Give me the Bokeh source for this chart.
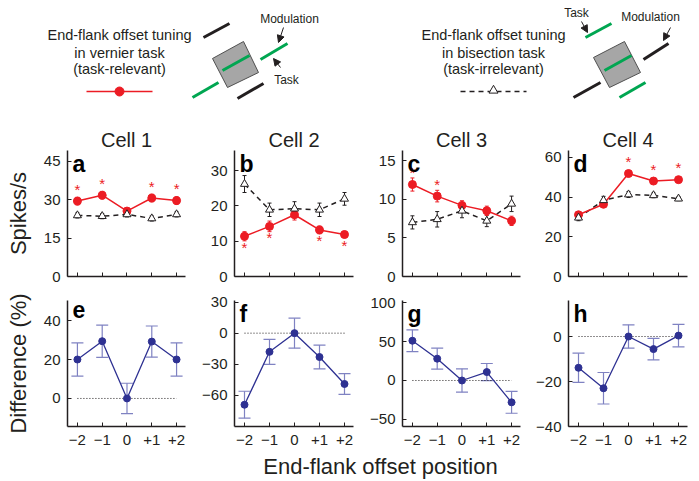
from bokeh.plotting import figure
from bokeh.layouts import column, row
from bokeh.models import (Range1d, FixedTicker, Whisker, TeeHead, ColumnDataSource,
                          Label, Arrow, NormalHead)
from bokeh.core.properties import value
from bokeh.embed import file_html
from bokeh.resources import INLINE

# ---------------- data ----------------
positions = [-2, -1, 0, 1, 2]
pos_labels = ["\u22122", "\u22121", "0", "+1", "+2"]
cells = ["Cell 1", "Cell 2", "Cell 3", "Cell 4"]
letters_top = ["a", "b", "c", "d"]
letters_bottom = ["e", "f", "g", "h"]

# vernier (task-relevant), spikes/s
cell1_vernier = [29.5, 31.8, 25.6, 30.7, 29.7]
cell2_vernier = [11.4, 14.2, 17.5, 13.2, 11.9]
cell3_vernier = [11.9, 10.4, 9.2, 8.5, 7.2]
cell4_vernier = [31.1, 36.4, 51.9, 48.1, 48.8]
cell1_vernier_err = [1.5, 1.5, 1.0, 1.5, 1.5]
cell2_vernier_err = [1.3, 1.5, 1.5, 1.1, 0.9]
cell3_vernier_err = [0.85, 0.75, 0.6, 0.6, 0.6]
cell4_vernier_err = [1.5, 1.5, 1.2, 1.0, 1.0]

# bisection (task-irrelevant), spikes/s
cell1_bisection = [23.9, 23.6, 24.3, 22.7, 24.3]
cell2_bisection = [26.2, 18.9, 19.2, 18.9, 22.0]
cell3_bisection = [7.0, 7.4, 8.5, 7.2, 9.4]
cell4_bisection = [29.6, 38.4, 41.3, 40.9, 39.2]
cell1_bisection_err = [1.0, 1.0, 1.0, 1.0, 1.0]
cell2_bisection_err = [2.4, 1.9, 2.0, 1.9, 1.8]
cell3_bisection_err = [0.85, 1.0, 0.9, 0.75, 1.0]
cell4_bisection_err = [1.5, 2.0, 1.5, 1.2, 1.0]

# significance stars (1 = star)
cell1_sig = [1, 1, 0, 1, 1]
cell2_sig = [1, 1, 0, 1, 1]
cell3_sig = [1, 1, 0, 0, 0]
cell4_sig = [0, 0, 1, 1, 1]
star_side = ["above", "below", "above", "above"]

# difference (%)
cell1_diff = [20.0, 29.4, 0.0, 29.2, 20.0]
cell2_diff = [-69.0, -18.0, 0.0, -23.0, -49.0]
cell3_diff = [51.0, 28.0, 0.0, 10.8, -28.0]
cell4_diff = [-13.9, -23.0, 0.0, -5.6, 0.4]
cell1_diff_err = [8.5, 8.3, 7.8, 8.0, 8.5]
cell2_diff_err = [13.0, 12.0, 14.5, 11.5, 10.0]
cell3_diff_err = [14.0, 13.5, 15.0, 11.0, 14.0]
cell4_diff_err = [6.5, 7.0, 5.2, 4.8, 5.0]

top_yticks = [[0, 15, 30, 45], [0, 10, 20, 30], [0, 5, 10, 15], [0, 20, 40, 60]]
top_yranges = [(0, 49.3), (0, 35.7), (0, 16.3), (0, 63.5)]
bottom_yticks = [[0, 20, 40], [-60, -30, 0, 30], [-50, 0, 50, 100], [-40, -20, 0]]
bottom_yranges = [(-14.4, 50.3), (-90, 31.5), (-59, 102.6), (-40, 16)]

vernier = [cell1_vernier, cell2_vernier, cell3_vernier, cell4_vernier]
vernier_err = [cell1_vernier_err, cell2_vernier_err, cell3_vernier_err, cell4_vernier_err]
bisection = [cell1_bisection, cell2_bisection, cell3_bisection, cell4_bisection]
bisection_err = [cell1_bisection_err, cell2_bisection_err, cell3_bisection_err, cell4_bisection_err]
sig = [cell1_sig, cell2_sig, cell3_sig, cell4_sig]
diff = [cell1_diff, cell2_diff, cell3_diff, cell4_diff]
diff_err = [cell1_diff_err, cell2_diff_err, cell3_diff_err, cell4_diff_err]

legend_text_left = ["End-flank offset tuning", "in vernier task", "(task-relevant)"]
legend_text_right = ["End-flank offset tuning", "in bisection task", "(task-irrelevant)"]
x_title = "End-flank offset position"

# ---------------- style ----------------
RED = "#ec1c24"
BLUE = "#2e3192"
BLUE_ERR = "#7f82c2"
INK = "#231f20"
GREEN = "#00a651"
GREY = "#a6a6a6"
FONT = "Liberation Sans"

col_widths = [195, 167, 167, 168]
col_left = [67, 39, 40, 39]
col_right = [10, 9, 9, 10]
XR = (-2.4, 2.36)


def minus(t):
    return str(t).replace("-", "\u2212")


def style(p, yticks, xlabels):
    p.xgrid.visible = False
    p.ygrid.visible = False
    for ax in (p.xaxis[0], p.yaxis[0]):
        ax.axis_line_width = 1.5
        ax.axis_line_color = INK
        ax.major_tick_in = 4
        ax.major_tick_out = 0
        ax.major_tick_line_color = INK
        ax.major_tick_line_width = 1
        ax.minor_tick_line_color = None
        ax.major_label_text_font = FONT
        ax.major_label_text_font_size = "15px"
        ax.major_label_text_color = INK
    p.xaxis.ticker = FixedTicker(ticks=positions)
    p.yaxis.ticker = FixedTicker(ticks=yticks)
    p.yaxis.major_label_overrides = {t: minus(t) for t in yticks}
    p.yaxis.major_label_standoff = 7
    if xlabels:
        p.xaxis.major_label_overrides = dict(zip(positions, pos_labels))
        p.xaxis.major_label_standoff = 8
    else:
        p.xaxis.major_label_overrides = {t: "" for t in positions}
        p.xaxis.major_label_standoff = 0


# ---------------- header ----------------
hdr = figure(width=697, height=120, x_range=Range1d(0, 697), y_range=Range1d(120, 0),
             toolbar_location=None, output_backend="svg", min_border=0,
             x_axis_location=None, y_axis_location=None, outline_line_color=None)
hdr.grid.visible = False

text_y = [34, 52, 68]
hdr.text(x=[119] * 3, y=text_y, text=legend_text_left, text_align="center",
         text_baseline="middle", text_font=value(FONT), text_font_size="14.5px", text_color=INK)
hdr.text(x=[493] * 3, y=text_y, text=legend_text_right, text_align="center",
         text_baseline="middle", text_font=value(FONT), text_font_size="14.5px", text_color=INK)
hdr.line([86, 152], [91, 91], line_color=RED, line_width=1.5)
hdr.scatter([119], [91], size=9, color=RED)
hdr.line([460, 526], [91, 91], line_color=INK, line_width=1.5, line_dash="5 4")
hdr.scatter([493], [90], marker="triangle", size=9, fill_color="white", line_color=INK)

# left schematic
hdr.patch([212, 243, 258, 227], [58, 41, 72, 87], fill_color=GREY, line_color="#505050", line_width=1)
hdr.segment(x0=[192, 222, 260], y0=[97, 70, 59], x1=[218, 249, 287], y1=[82, 55, 43],
            line_color=GREEN, line_width=3)
hdr.segment(x0=[203, 237], y0=[37, 98], x1=[229, 263], y1=[23, 83], line_color=INK, line_width=3)
hdr.text(x=[289, 286], y=[18, 79], text=["Modulation", "Task"], text_align="center",
         text_baseline="middle", text_font=value(FONT), text_font_size="12px", text_color=INK)
# right schematic
hdr.patch([593, 624, 640, 609], [57, 41, 72, 87], fill_color=GREY, line_color="#505050", line_width=1)
hdr.segment(x0=[585, 604, 619], y0=[37, 70, 97], x1=[611, 631, 645], y1=[23, 55, 82],
            line_color=GREEN, line_width=3)
hdr.segment(x0=[643, 573], y0=[59, 97], x1=[668, 600], y1=[43, 82], line_color=INK, line_width=3)
hdr.text(x=[576, 650], y=[12, 16], text=["Task", "Modulation"], text_align="center",
         text_baseline="middle", text_font=value(FONT), text_font_size="12px", text_color=INK)
for (xs, ys, xe, ye) in [(283, 27, 278, 42), (280, 67, 273, 58), (581, 21, 587, 32), (670, 27, 663, 40)]:
    hdr.add_layout(Arrow(end=NormalHead(size=7, fill_color=INK, line_color=INK, line_width=1),
                         x_start=xs, y_start=ys, x_end=xe, y_end=ye, line_color=INK, line_width=1))

# ---------------- panels ----------------
top_figs = []
bottom_figs = []
for i in range(4):
    # top row: spikes/s
    p = figure(width=col_widths[i], height=170, x_range=Range1d(*XR), y_range=Range1d(*top_yranges[i]),
               toolbar_location=None, output_backend="svg", min_border_left=col_left[i],
               min_border_right=col_right[i], min_border_top=30, min_border_bottom=14,
               outline_line_color=None, title=cells[i])
    p.title.align = "center"
    p.title.text_font = FONT
    p.title.text_font_size = "20px"
    p.title.text_font_style = "normal"
    p.title.text_color = INK
    p.title.standoff = 0
    style(p, top_yticks[i], False)

    sb = ColumnDataSource(dict(x=positions, y=bisection[i],
                               lo=[v - e for v, e in zip(bisection[i], bisection_err[i])],
                               hi=[v + e for v, e in zip(bisection[i], bisection_err[i])]))
    sv = ColumnDataSource(dict(x=positions, y=vernier[i],
                               lo=[v - e for v, e in zip(vernier[i], vernier_err[i])],
                               hi=[v + e for v, e in zip(vernier[i], vernier_err[i])]))
    p.add_layout(Whisker(source=sb, base="x", upper="hi", lower="lo", line_color=INK, line_width=1,
                         upper_head=TeeHead(size=4, line_color=INK, line_width=1),
                         lower_head=TeeHead(size=4, line_color=INK, line_width=1)))
    p.line("x", "y", source=sb, line_color=INK, line_width=1.5, line_dash="5 4")
    p.add_layout(Whisker(source=sv, base="x", upper="hi", lower="lo", line_color=RED, line_width=1,
                         upper_head=TeeHead(size=4, line_color=RED, line_width=1),
                         lower_head=TeeHead(size=4, line_color=RED, line_width=1)))
    p.line("x", "y", source=sv, line_color=RED, line_width=1.5)
    p.scatter("x", "y", source=sv, size=8, color=RED)
    p.scatter("x", "y", source=sb, marker="triangle", size=8, fill_color="white", line_color=INK,
              line_width=1)
    sx = [x for x, s in zip(positions, sig[i]) if s]
    sy = [v for v, s in zip(vernier[i], sig[i]) if s]
    off = -12 if star_side[i] == "above" else 11
    p.text(x=sx, y=sy, text=["*"] * len(sx), y_offset=off, text_align="center",
           text_baseline="middle", text_color=RED, text_font=value(FONT), text_font_size="15px")
    p.add_layout(Label(x=XR[0], y=top_yranges[i][1], x_offset=5, text=letters_top[i],
                       text_baseline="top", text_font=FONT, text_font_style="bold",
                       text_font_size="23px", text_color="black"))
    if i == 0:
        p.yaxis.axis_label = "Spikes/s"
    top_figs.append(p)

    # bottom row: difference
    q = figure(width=col_widths[i], height=164, x_range=Range1d(*XR), y_range=Range1d(*bottom_yranges[i]),
               toolbar_location=None, output_backend="svg", min_border_left=col_left[i],
               min_border_right=col_right[i], min_border_top=10, min_border_bottom=28,
               outline_line_color=None)
    style(q, bottom_yticks[i], True)
    q.line(x=[positions[0], positions[-1]], y=[0, 0], line_color=INK, line_width=1, line_dash="1 2")
    sd = ColumnDataSource(dict(x=positions, y=diff[i],
                               lo=[v - e for v, e in zip(diff[i], diff_err[i])],
                               hi=[v + e for v, e in zip(diff[i], diff_err[i])]))
    q.add_layout(Whisker(source=sd, base="x", upper="hi", lower="lo", line_color=BLUE_ERR, line_width=1.2,
                         upper_head=TeeHead(size=12, line_color=BLUE_ERR, line_width=1.2),
                         lower_head=TeeHead(size=12, line_color=BLUE_ERR, line_width=1.2)))
    q.line("x", "y", source=sd, line_color=BLUE, line_width=1.3)
    q.scatter("x", "y", source=sd, size=7, color=BLUE)
    q.add_layout(Label(x=XR[0], y=bottom_yranges[i][1], x_offset=5, text=letters_bottom[i],
                       text_baseline="top", text_font=FONT, text_font_style="bold",
                       text_font_size="23px", text_color="black"))
    if i == 0:
        q.yaxis.axis_label = "Difference (%)"
    bottom_figs.append(q)

for f in (top_figs[0], bottom_figs[0]):
    f.yaxis.axis_label_text_font = FONT
    f.yaxis.axis_label_text_font_size = "22px"
    f.yaxis.axis_label_text_font_style = "normal"
    f.yaxis.axis_label_text_color = INK
    f.yaxis.axis_label_standoff = 10

# ---------------- footer ----------------
ftr = figure(width=697, height=25, x_range=Range1d(0, 697), y_range=Range1d(25, 0),
             toolbar_location=None, output_backend="svg", min_border=0,
             x_axis_location=None, y_axis_location=None, outline_line_color=None)
ftr.grid.visible = False
ftr.text(x=[380], y=[12], text=[x_title], text_align="center", text_baseline="middle",
         text_font=value(FONT), text_font_size="22px", text_color=INK)

layout = column(hdr, row(*top_figs), row(*bottom_figs), ftr)
open("out.html", "w").write(file_html(layout, INLINE))
